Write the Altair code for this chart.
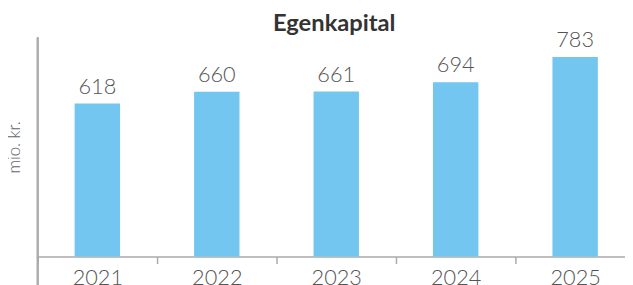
import altair as alt
import pandas as pd

years = ["2021", "2022", "2023", "2024", "2025"]
values = [618, 660, 661, 694, 783]

df = pd.DataFrame({"year": years, "value": values})

W = 605
H = 222
FONT = "Lato"

base = alt.Chart(df).encode(
    x=alt.X(
        "year:N",
        sort=years,
        scale=alt.Scale(paddingInner=0, paddingOuter=0),
        axis=alt.Axis(
            title=None,
            labelAngle=0,
            labelFontSize=22,
            labelFont=FONT,
            labelFontWeight=300,
            labelColor="#555555",
            labelPadding=4,
            tickBand="extent",
            tickSize=7,
            tickColor="#aaaaaa",
            tickWidth=1.5,
            domainColor="#aaaaaa",
            domainWidth=1.5,
        ),
    ),
    y=alt.Y(
        "value:Q",
        scale=alt.Scale(domain=[74, 853], zero=False, nice=False),
        axis=alt.Axis(
            title="mio. kr.",
            titleFont=FONT,
            titleFontSize=17,
            titleFontWeight=300,
            titleColor="#666666",
            titlePadding=14,
            labels=False,
            ticks=False,
            grid=False,
            domain=False,
        ),
    ),
)

bars = base.mark_bar(color="#73C6EF", size=46, clip=True)

labels = base.mark_text(
    baseline="bottom",
    dy=-5,
    fontSize=22,
    font=FONT,
    fontWeight=300,
    color="#555555",
).encode(text=alt.Text("value:Q"))

yline = alt.Chart(df).mark_rule(color="#aaaaaa", strokeWidth=1.5).encode(
    x=alt.value(0), y=alt.value(0), y2=alt.value(H + 30)
)

chart = (
    alt.layer(bars, labels, yline)
    .properties(
        width=W,
        height=H,
        autosize=alt.AutoSizeParams(type="none"),
        padding={"left": 30, "top": 28, "right": -10, "bottom": 27},
        title=alt.TitleParams(
            "Egenkapital",
            font=FONT,
            fontSize=24,
            fontWeight="bold",
            color="#333333",
            anchor="middle",
            offset=-7,
            dx=-2,
        ),
    )
    .configure_view(stroke=None)
)

chart.save("out.html", embed_options={"renderer": "svg", "actions": False})
